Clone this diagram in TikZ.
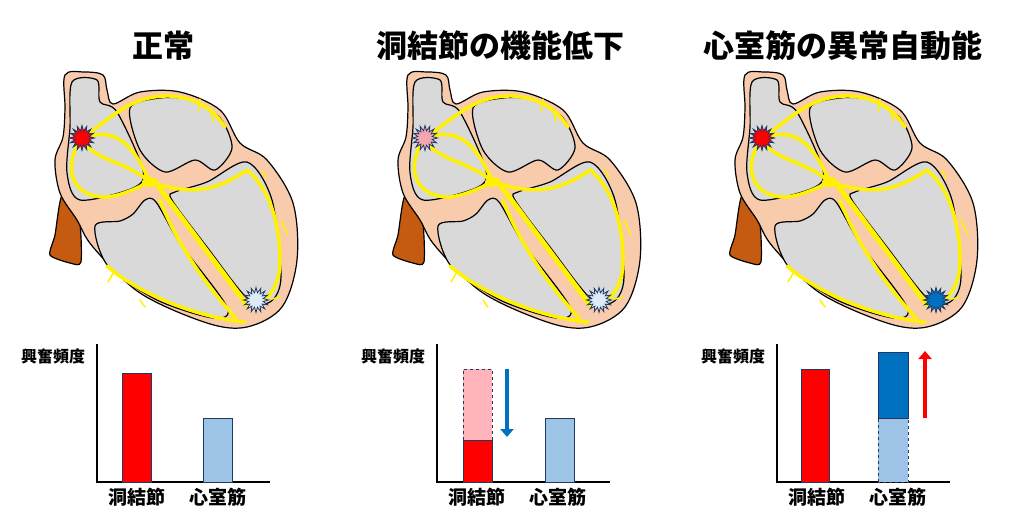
\documentclass[tikz,border=0pt]{standalone}
\usepackage{fontspec}
\newfontfamily\cjk{Noto Sans CJK JP}
\usetikzlibrary{shapes.geometric,arrows.meta}
\definecolor{skin}{HTML}{F8CBAD}
\definecolor{cham}{HTML}{D9D9D9}
\definecolor{vena}{HTML}{C55A11}
\definecolor{lb}{HTML}{9DC3E6}
\definecolor{db}{HTML}{0070C0}
\definecolor{pk}{HTML}{FFB3BA}
\definecolor{spk}{HTML}{F4A6B0}
\definecolor{nv}{HTML}{1F3864}
\definecolor{vl}{HTML}{DEEBF7}
\tikzset{
 wall/.style={draw=black,line width=1.2pt},
 nerve/.style={draw=yellow,line width=3.5pt,line cap=round,line join=round},
 thin/.style={draw=yellow,line width=1.5pt,line cap=round},
 burst/.style={star,star points=16,star point ratio=1.7,minimum size=25pt,inner sep=0pt,draw=nv,line width=0.8pt},
 ttl/.style={font=\cjk\bfseries\fontsize{31}{34}\selectfont},
 lab/.style={font=\cjk\bfseries\fontsize{19}{21}\selectfont},
 ylab/.style={font=\cjk\bfseries\fontsize{16}{18}\selectfont},
 bar/.style={draw=nv,line width=1pt},
}
\newcommand\drawheart[4]{%
\begin{scope}[shift={(#1,0)}]
 \path[wall,fill=vena] plot[smooth cycle,tension=0.4] coordinates{(62,196)(79,218)(81,262)(70,263)(50,255)(55,235)};
 \path[wall,fill=skin] plot[smooth cycle,tension=0.55] coordinates{(65,75)(84,72)(103,75)(107,90)(113,104)(140,92)(180,92)(220,110)(240,143)(267,160)(293,203)(297,260)(282,307)(247,327)(207,323)(140,293)(93,247)(77,220)(60,193)(55,160)(63,137)(65,108)};
 \path[wall,fill=cham] plot[smooth cycle,tension=0.5] coordinates{(72,82)(97,80)(100,102)(117,112)(143,170)(133,188)(80,200)(67,173)(70,127)};
 \path[wall,fill=cham] plot[smooth cycle,tension=0.5] coordinates{(130,108)(160,98)(190,100)(220,118)(232,148)(215,170)(195,160)(165,172)(140,150)};
 \path[wall,fill=cham] plot[smooth cycle,tension=0.5] coordinates{(95,226)(120,221)(133,214)(145,200)(156,202)(180,243)(227,307)(213,318)(157,300)(108,266)};
 \path[wall,fill=cham] plot[smooth cycle,tension=0.5] coordinates{(175,192)(207,182)(247,162)(272,200)(281,277)(270,302)(247,298)(207,247)(172,200)};
 \draw[nerve] (82,138) .. controls (112,118) and (130,95) .. (170,96) .. controls (200,98) and (215,112) .. (225,127);
 \draw[nerve] (82,138) .. controls (62,165) and (70,198) .. (107,197) .. controls (125,195) and (140,186) .. (150,182);
 \draw[nerve] (82,138) .. controls (90,160) and (125,160) .. (150,182);
 \draw[nerve] (82,138) .. controls (120,125) and (135,150) .. (150,182);
 \draw[nerve] (150,182) .. controls (190,195) and (215,192) .. (247,170) .. controls (272,190) and (280,230) .. (280,260) .. controls (280,285) and (270,298) .. (258,302);
 \draw[nerve,line width=5pt] (158,186) -- (247,305);
 \draw[nerve] (160,200) .. controls (175,240) and (205,285) .. (236,318);
 \draw[nerve] (107,266) .. controls (140,295) and (200,318) .. (245,322);
 \draw[thin] (200,99) -- (198,112) (210,108) -- (213,122) (262,170) -- (266,178) (281,220) -- (288,235) (115,270) -- (108,282) (140,300)--(145,307) (268,300)--(280,297);
 \fill[yellow] (150,182) ellipse (8 and 5);
 \node[burst,fill=#2] (sa#4) at (82,138) {};
 \node[burst,fill=#3] (vn#4) at (256,300) {};
\end{scope}}
\begin{document}
\begin{tikzpicture}[x=1pt,y=-1pt]
\useasboundingbox (0,0) rectangle (1024,528);
\fill[white] (0,0) rectangle (1024,528);
\drawheart{0}{red}{vl}{a}
\drawheart{343}{spk}{vl}{b}
\drawheart{680}{red}{db}{c}
\node[ttl] (t1) at (163,46) {正常};
\node[ttl] (t2) at (500,46) {洞結節の機能低下};
\node[ttl] (t3) at (843,46) {心室筋の異常自動能};
\foreach \o/\n in {0/a,340/b,680/c}{
 \begin{scope}[shift={(\o,0)}]
 \node[ylab] (y\n) at (53,356) {興奮頻度};
 \draw[line width=1.4pt] (97,344) -- (97,482) -- (270,482);
 \node[lab] (x1\n) at (137,497) {洞結節};
 \node[lab] (x2\n) at (218,497) {心室筋};
 \end{scope}}
\filldraw[bar,fill=red] (122,482) rectangle (151,373);
\filldraw[bar,fill=lb] (203,482) rectangle (232,418);
\filldraw[bar,fill=pk,dashed] (463,440) rectangle (492,369);
\filldraw[bar,fill=red] (463,482) rectangle (492,440);
\filldraw[bar,fill=lb] (545,482) rectangle (574,418);
\coordinate (a2s) at (507,369); \coordinate (a2e) at (507,437);
\draw[db,line width=4pt,-{Triangle[length=8pt,width=13pt]}] (a2s) -- (a2e);
\filldraw[bar,fill=red] (801,482) rectangle (829,369);
\filldraw[bar,fill=lb,dashed] (878,482) rectangle (908,418);
\filldraw[bar,fill=db] (878,418) rectangle (908,352);
\coordinate (a3s) at (925,418); \coordinate (a3e) at (925,351);
\draw[red,line width=4pt,-{Triangle[length=8pt,width=13pt]}] (a3s) -- (a3e);
\end{tikzpicture}
\end{document}
